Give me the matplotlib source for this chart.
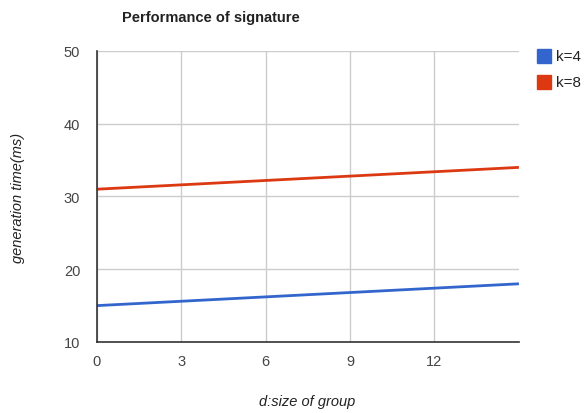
import matplotlib
matplotlib.use("Agg")
import matplotlib.pyplot as plt
from matplotlib.patches import Rectangle

plt.rcParams["font.family"] = ["Liberation Sans", "DejaVu Sans"]

# data
group_size = [0, 15]
k4_time = [15, 18]
k8_time = [31, 34]
series_labels = ["k=4", "k=8"]
series_colors = ["#3366cc", "#dc3912"]
x_ticks = [0, 3, 6, 9, 12]
y_ticks = [10, 20, 30, 40, 50]

fig = plt.figure(figsize=(5.87, 4.14), dpi=100)
ax = fig.add_axes([0.165, 0.1715, 0.719, 0.703])

for ys, lab, c in zip([k4_time, k8_time], series_labels, series_colors):
    ax.plot(group_size, ys, color=c, linewidth=2, label=lab, solid_capstyle="butt")

ax.set_xlim(0, 15)
ax.set_ylim(10, 50)
ax.set_xticks(x_ticks)
ax.set_yticks(y_ticks)
ax.grid(True, color="#cccccc", linewidth=1)
ax.set_axisbelow(True)
for s in ("top", "right"):
    ax.spines[s].set_visible(False)
for s in ("left", "bottom"):
    ax.spines[s].set_color("#333333")
    ax.spines[s].set_linewidth(1.2)
ax.tick_params(length=0, labelsize=10.5, colors="#444444", pad=9)
ax.tick_params(axis="y", pad=12)

# axis titles placed directly (Google-chart layout)
fig.text(307 / 587, 1 - 402 / 414, "d:size of group", fontsize=10.5, style="italic",
         color="#222222", ha="center", va="center")
fig.text(18 / 587, 1 - 198 / 414, "generation time(ms)", fontsize=10.5, style="italic",
         color="#222222", ha="center", va="center", rotation=90)

fig.text(122 / 587, 1 - 18 / 414, "Performance of signature", fontsize=10.5,
         fontweight="bold", color="#222222", va="center", ha="left")

# legend as squares + text
for i, (lab, c) in enumerate(zip(series_labels, series_colors)):
    yc = 57 + i * 26
    fig.patches.append(Rectangle((537 / 587, 1 - (yc + 7) / 414), 14 / 587, 14 / 414,
                                 transform=fig.transFigure, color=c))
    fig.text(556 / 587, 1 - yc / 414, lab, fontsize=11, color="#222222",
             va="center", ha="left")

fig.savefig("out.png", dpi=100)
